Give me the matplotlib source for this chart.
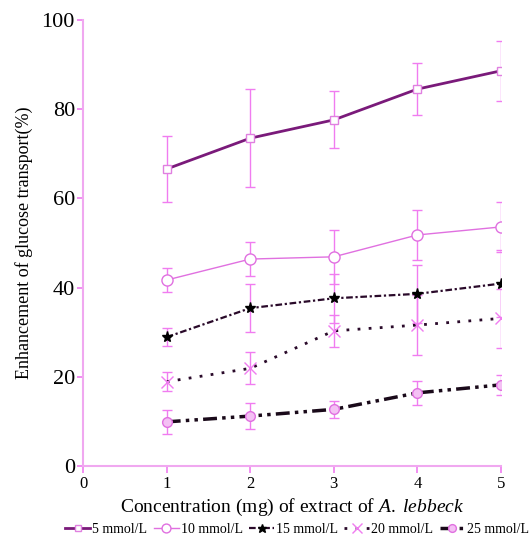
import matplotlib
matplotlib.use("Agg")
import matplotlib.pyplot as plt

conc = [1, 2, 3, 4, 5]
labels = ["5 mmol/L", "10 mmol/L", "15 mmol/L", "20 mmol/L", "25 mmol/L"]
y5 = [66.6, 73.5, 77.6, 84.5, 88.6]
e5 = [7.4, 11.0, 6.4, 5.8, 6.7]
y10 = [41.7, 46.4, 46.9, 51.8, 53.6]
e10 = [2.6, 3.9, 6.0, 5.6, 5.7]
y15 = [28.9, 35.4, 37.6, 38.6, 40.9]
e15 = [2.0, 5.3, 5.5, 6.5, 7.6]
y20 = [18.9, 21.9, 30.3, 31.6, 33.1]
e20 = [2.1, 3.6, 3.6, 6.8, 6.6]
y25 = [9.9, 11.2, 12.7, 16.4, 18.2]
e25 = [2.7, 2.9, 1.9, 2.7, 2.2]

plt.rcParams['font.family'] = ['Liberation Serif', 'DejaVu Serif']
plt.rcParams['mathtext.fontset'] = 'custom'
plt.rcParams['mathtext.rm'] = 'Liberation Serif'
plt.rcParams['mathtext.it'] = 'Liberation Serif:italic'

fig = plt.figure(figsize=(5.3, 5.4), dpi=100)
ax = fig.add_axes([0.157, 0.137, 0.788, 0.826])

pink = '#f07cf0'
ekw = dict(ecolor=pink, elinewidth=1.0, capsize=3.5, capthick=1.0)

c1 = ax.errorbar(conc, y5, yerr=e5, color='#7a1a7a', lw=2.0, marker='s', ms=6,
                 mfc='white', mec='#e080e0', mew=1.0, **ekw)
c2 = ax.errorbar(conc, y10, yerr=e10, color='#e070e0', lw=1.0, marker='o', ms=8,
                 mfc='white', mec='#e070e0', mew=1.0, **ekw)
c3 = ax.errorbar(conc, y15, yerr=e15, color='#2a0a2a', lw=1.6, ls=(0, (3, 1.2, 1, 1.2)),
                 marker='*', ms=8, mfc='black', mec='black', **ekw)
c4 = ax.errorbar(conc, y20, yerr=e20, color='#2a0a2a', lw=2.0, ls=(0, (1, 3)),
                 marker='x', ms=9, mec='#f07cf0', mew=1.0, **ekw)
c5 = ax.errorbar(conc, y25, yerr=e25, color='#1a0a1a', lw=2.5, ls=(0, (4, 1.5, 1, 1.5, 1, 1.5)),
                 marker='o', ms=7, mfc='#f4c0f4', mec='#e070e0', mew=1.0, **ekw)

ax.set_xlim(0, 5)
ax.set_ylim(0, 100)
ax.set_xticks([0, 1, 2, 3, 4, 5])
ax.set_yticks([0, 20, 40, 60, 80, 100])
ax.tick_params(axis='y', labelsize=16, colors=pink, labelcolor='black', length=4, width=1.2, pad=2)
ax.tick_params(axis='x', labelsize=12, colors=pink, labelcolor='black', length=5, width=1.2, pad=2)
for s in ['top', 'right']:
    ax.spines[s].set_visible(False)
for s in ['left', 'bottom']:
    ax.spines[s].set_color('#f0a8f0')
    ax.spines[s].set_linewidth(1.5)

ax.set_xlabel('Concentration (mg) of extract of $\\it{A.\\ lebbeck}$', fontsize=14, labelpad=4)
ax.set_ylabel('Enhancement of glucose transport(%)', fontsize=13, labelpad=6)

handles = [c[0] for c in (c1, c2, c3, c4, c5)]
ax.legend(handles, labels, loc='upper center', bbox_to_anchor=(0.512, -0.115), ncol=5,
          frameon=False, fontsize=10, handlelength=1.8, handletextpad=0.15,
          columnspacing=0.45, borderaxespad=0, markerscale=0.8)

fig.savefig('out.png', dpi=100)
